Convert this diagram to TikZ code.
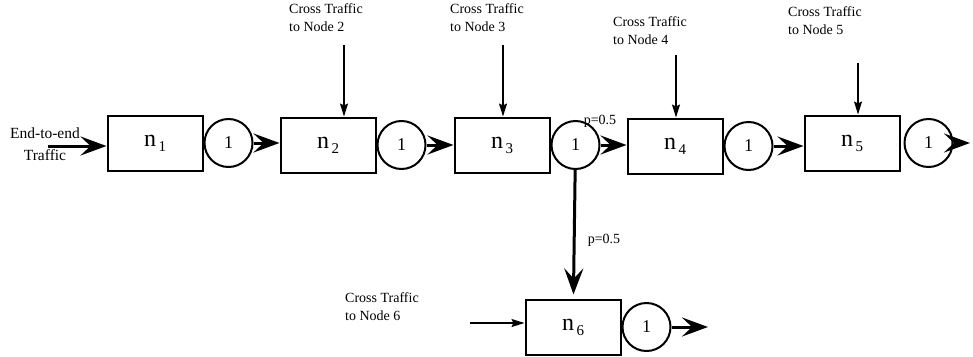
\documentclass[tikz,border=0pt]{standalone}
\usepackage{fontspec}
\setmainfont{Liberation Serif}
\usetikzlibrary{arrows.meta,positioning}
\newcommand{\qn}[1]{n\raisebox{-5pt}{\fontsize{15}{15}\selectfont\,#1}}

\begin{document}
\begin{tikzpicture}[x=1pt, y=-1pt, node distance=0pt,
  box/.style={draw, line width=2pt, minimum width=95pt, minimum height=55pt, inner sep=0pt, font=\fontsize{24}{24}\selectfont},
  srv/.style={draw, circle, line width=2pt, minimum size=48pt, inner sep=0pt, font=\fontsize{18}{18}\selectfont},
  lbl/.style={align=left, font=\fontsize{14}{18}\selectfont, inner sep=0pt, anchor=north west},
  flow/.style={line width=3pt, -{Stealth[length=26pt,width=19pt,inset=10pt]}},
  cross/.style={line width=1.3pt, -{Stealth[length=13pt,width=8pt,inset=2pt]}},
  prob/.style={font=\fontsize{14}{14}\selectfont, inner sep=0pt}]
\useasboundingbox (0,0) rectangle (973,356);
\node[box] (n1) at (155,143) {\qn{1}};
\node[srv, right=of n1] (q1) {1};
\node[box] (n2) at (328,145) {\qn{2}};
\node[srv, right=of n2] (q2) {1};
\node[box] (n3) at (502,145) {\qn{3}};
\node[srv, right=of n3] (q3) {1};
\node[box] (n4) at (675,146) {\qn{4}};
\node[srv, right=of n4] (q4) {1};
\node[box] (n5) at (852,143) {\qn{5}};
\node[srv, right=3pt of n5] (q5) {1};
\node[box] (n6) at (573,327) {\qn{6}};
\node[srv, right=of n6] (q6) {1};
\node[align=center, font=\fontsize{15.5}{22}\selectfont, inner sep=0pt] (src) at (45,144) {End-to-end\\Traffic};
\node[lbl] (x2) at (289,3) {Cross Traffic\\to Node 2};
\node[lbl] (x3) at (450,3) {Cross Traffic\\to Node 3};
\node[lbl] (x4) at (613,16) {Cross Traffic\\to Node 4};
\node[lbl] (x5) at (788,6) {Cross Traffic\\to Node 5};
\node[lbl] (x6) at (345,292) {Cross Traffic\\to Node 6};
\node[prob] (p1) at (600,121) {p=0.5};
\node[prob] (p2) at (604,240) {p=0.5};
\coordinate (in1) at (48,146);
\coordinate (out5) at (970,143);
\coordinate (out6) at (708,327);
\coordinate (c2) at (344,45);
\coordinate (c3) at (503,45);
\coordinate (c4) at (676,55);
\coordinate (c5) at (858,63);
\coordinate (c6) at (470,323);
\draw[flow] (in1) -- (n1.west |- in1);
\draw[flow] (q1) -- (n2.west |- q1);
\draw[flow] (q2) -- (n3.west |- q2);
\draw[flow] (q3) -- (n4.west |- q3);
\draw[flow] (q4) -- (n5.west |- q4);
\draw[flow] (q5) -- (out5);
\draw[flow, shorten >=4pt] (q3) -- (n6);
\draw[flow] (q6) -- (out6);
\draw[cross] (c2) -- (c2 |- n2.north);
\draw[cross] (c3) -- (c3 |- n3.north);
\draw[cross] (c4) -- (c4 |- n4.north);
\draw[cross] (c5) -- (c5 |- n5.north);
\draw[cross] (c6) -- (c6 -| n6.west);
\end{tikzpicture}
\end{document}
